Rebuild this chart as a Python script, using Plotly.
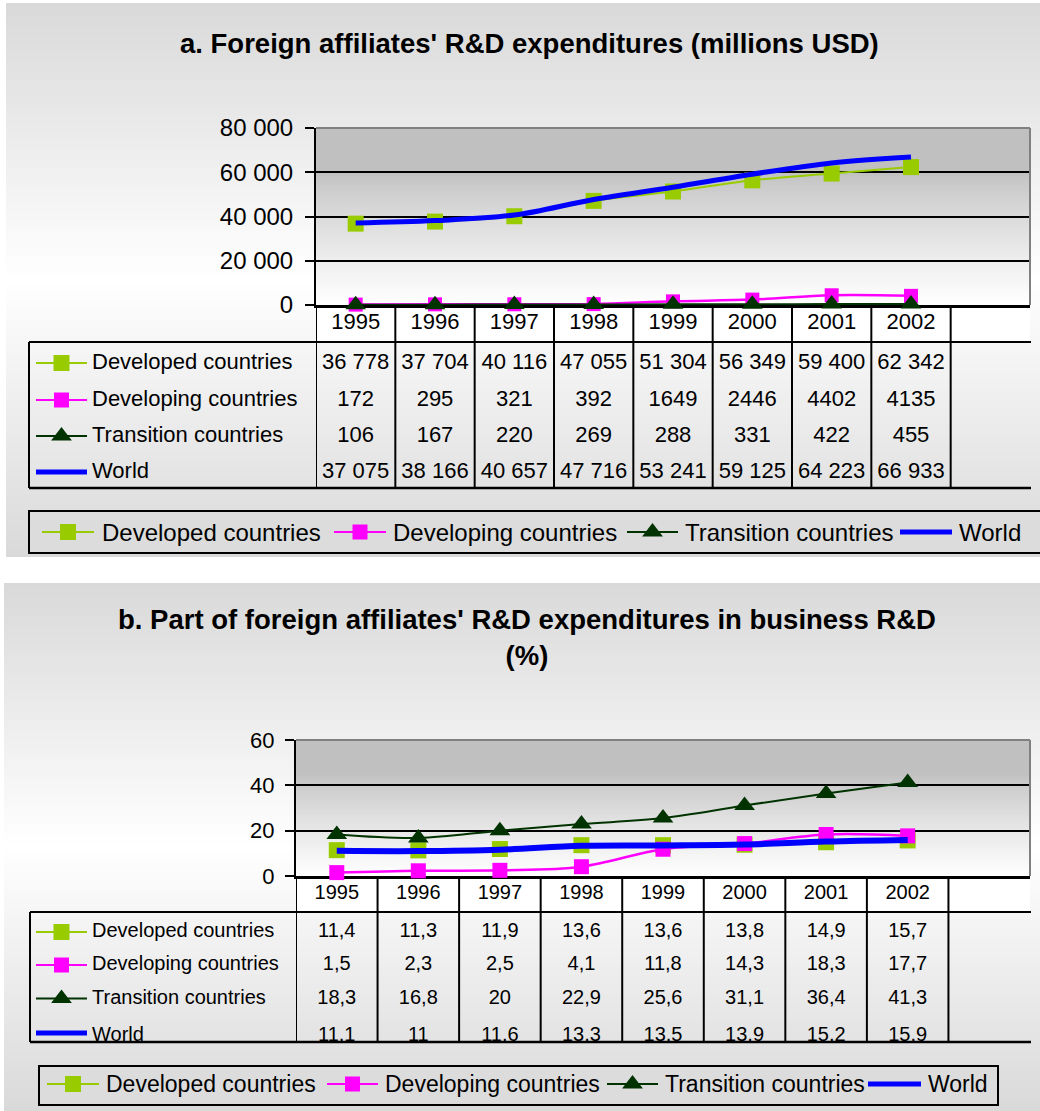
import plotly.graph_objects as go

W, H = 1040, 1111
FONT = "Liberation Sans, Arial, sans-serif"

# ---------------- data ----------------
years = [1995, 1996, 1997, 1998, 1999, 2000, 2001, 2002]
series_names = ["Developed countries", "Developing countries",
                "Transition countries", "World"]

rd_developed = [36778, 37704, 40116, 47055, 51304, 56349, 59400, 62342]
rd_developing = [172, 295, 321, 392, 1649, 2446, 4402, 4135]
rd_transition = [106, 167, 220, 269, 288, 331, 422, 455]
rd_world = [37075, 38166, 40657, 47716, 53241, 59125, 64223, 66933]

share_developed = [11.4, 11.3, 11.9, 13.6, 13.6, 13.8, 14.9, 15.7]
share_developing = [1.5, 2.3, 2.5, 4.1, 11.8, 14.3, 18.3, 17.7]
share_transition = [18.3, 16.8, 20, 22.9, 25.6, 31.1, 36.4, 41.3]
share_world = [11.1, 11, 11.6, 13.3, 13.5, 13.9, 15.2, 15.9]

ticks_a = [0, 20000, 40000, 60000, 80000]
ticks_b = [0, 20, 40, 60]

title_a = "a. Foreign affiliates' R&D expenditures (millions USD)"
title_b = "b. Part of foreign affiliates' R&D expenditures in business R&D<br>(%)"

colors = ["#99CC00", "#FF00FF", "#003300", "#0000FF"]
symbols = ["square", "square", "triangle-up", None]


# ---------------- helpers ----------------
def px(x):
    return x / W


def py(y):
    return 1 - y / H


def xdom(a, b):
    return [a / W, b / W]


def ydom(top, bottom):
    return [1 - bottom / H, 1 - top / H]


def gray(c):
    c = int(round(max(0, min(255, c))))
    return f"rgb({c},{c},{c})"


def fmt_space(v):
    return f"{v:,}".replace(",", " ")


def fmt_comma(v):
    return f"{v:g}".replace(".", ",")


shapes = []
annotations = []
traces = []


def hline(y, x0, x1, width=2, color="black", layer="below"):
    shapes.append(dict(type="line", xref="paper", yref="paper", x0=px(x0), x1=px(x1),
                       y0=py(y), y1=py(y), line=dict(color=color, width=width), layer=layer))


def vline_px(x, y0, y1, width=2, color="black", layer="below"):
    shapes.append(dict(type="line", xref="paper", yref="paper", x0=px(x), x1=px(x),
                       y0=py(y0), y1=py(y1), line=dict(color=color, width=width), layer=layer))


def panel(x0, x1, y0, y1, center, half, edge=217, step=4):
    y = y0
    while y < y1:
        yb = min(y + step, y1)
        d = min(1.0, abs((y + yb) / 2 - center) / half)
        c = 255 - (255 - edge) * d
        shapes.append(dict(type="rect", xref="paper", yref="paper", x0=px(x0), x1=px(x1),
                           y0=py(yb), y1=py(y), line=dict(width=0), fillcolor=gray(c),
                           layer="below"))
        y = yb


def plot_grad(x0, x1, y0, y1, step=3):
    y = y0
    while y < y1:
        yb = min(y + step, y1)
        t = ((y + yb) / 2 - y0) / (y1 - y0)
        s = max(0.0, (t - 0.25) / 0.75) ** 0.8
        c = 192 + 63 * s
        shapes.append(dict(type="rect", xref="paper", yref="paper", x0=px(x0), x1=px(x1),
                           y0=py(yb), y1=py(y), line=dict(width=0), fillcolor=gray(c),
                           layer="below"))
        y = yb


def build_chart(cfg, data, fmts):
    xa, ya, yt, xl = cfg["xa"], cfg["ya"], cfg["yt"], cfg["xl"]
    # background panel & plot gradient
    panel(cfg["panel_x0"], W, cfg["panel_y0"], cfg["panel_y1"], cfg["panel_c"], cfg["panel_h"])
    plot_grad(cfg["pl"], cfg["pr"], cfg["pt"], cfg["pb"])
    # header row white fill
    shapes.append(dict(type="rect", xref=xa, yref="paper", x0=years[0] - 0.5,
                       x1=years[-1] + 1.5, y0=py(cfg["tt"]), y1=py(cfg["pb"]),
                       line=dict(width=0), fillcolor="white", layer="below"))
    # table lines
    hline(cfg["tt"], cfg["tl"], cfg["pr"] + 1, width=2)
    hline(cfg["tb"], cfg["tl"], cfg["pr"] + 1, width=2.5)
    vline_px(cfg["tl"], cfg["tt"], cfg["tb"], width=2)
    for yr in years + [years[-1] + 1]:
        shapes.append(dict(type="line", xref=xa, yref="paper", x0=yr - 0.5, x1=yr - 0.5,
                           y0=py(cfg["pb"]), y1=py(cfg["tb"]),
                           line=dict(color="black", width=2), layer="below"))
    # plot-area gray border (top & right)
    hline(cfg["pt"], cfg["pl"], cfg["pr"], width=2, color="#808080", layer="above")
    vline_px(cfg["pr"], cfg["pt"], cfg["pb"], width=2, color="#808080", layer="above")

    # data lines
    for i, vals in enumerate(data):
        mode = "lines" if symbols[i] is None else "lines+markers"
        traces.append(go.Scatter(
            x=years, y=vals, mode=mode, xaxis=xa, yaxis=ya, cliponaxis=False,
            line=dict(color=colors[i], width=cfg["lw"][i], shape="spline", smoothing=1),
            marker=dict(symbol=symbols[i] or "circle", size=cfg["ms"][i], color=colors[i],
                        line=dict(width=0)),
            hoverinfo="skip", showlegend=False))

    # table: year header
    traces.append(go.Scatter(
        x=years, y=[cfg["head_y"]] * len(years), mode="text", text=[str(y) for y in years],
        textposition="middle center", xaxis=xa, yaxis=yt,
        textfont=dict(family=FONT, size=cfg["fs_head"], color="black"),
        hoverinfo="skip", showlegend=False))
    # table: values
    for r, vals in enumerate(data):
        traces.append(go.Scatter(
            x=years, y=[cfg["row_y"][r]] * len(years), mode="text",
            text=[fmts[r](v) for v in vals], textposition="middle center",
            xaxis=xa, yaxis=yt,
            textfont=dict(family=FONT, size=cfg["fs_tab"], color="black"),
            hoverinfo="skip", showlegend=False))
    # table: row labels + keys
    traces.append(go.Scatter(
        x=[cfg["lab_x"]] * 4, y=cfg["row_y"], mode="text", text=series_names,
        textposition="middle right", xaxis=xl, yaxis=yt,
        textfont=dict(family=FONT, size=cfg["fs_tab"], color="black"),
        hoverinfo="skip", showlegend=False))
    for i in range(4):
        ry = cfg["row_y"][i] + cfg["key_dy"][i]
        traces.append(go.Scatter(
            x=[cfg["key_x0"], cfg["key_x1"]], y=[ry, ry], mode="lines", xaxis=xl, yaxis=yt,
            line=dict(color=colors[i], width=5 if i == 3 else 2),
            hoverinfo="skip", showlegend=False))
        if symbols[i]:
            traces.append(go.Scatter(
                x=[(cfg["key_x0"] + cfg["key_x1"]) / 2], y=[ry], mode="markers",
                xaxis=xl, yaxis=yt,
                marker=dict(symbol=symbols[i], size=cfg["ms_leg"][i], color=colors[i],
                            line=dict(width=0)),
                hoverinfo="skip", showlegend=False))

    # bottom legend box
    lb = cfg["leg_box"]
    shapes.append(dict(type="rect", xref="paper", yref="paper", x0=px(lb[0]), x1=px(lb[1]),
                       y0=py(lb[3]), y1=py(lb[2]), line=dict(color="black", width=2),
                       fillcolor="rgb(220,220,220)", layer="below"))
    ly = cfg["leg_y"]
    for i, (k0, k1, tx) in enumerate(cfg["leg_items"]):
        traces.append(go.Scatter(
            x=[k0, k1], y=[ly, ly], mode="lines", xaxis="x5", yaxis="y5",
            line=dict(color=colors[i], width=5 if i == 3 else 2),
            hoverinfo="skip", showlegend=False))
        if symbols[i]:
            traces.append(go.Scatter(
                x=[(k0 + k1) / 2], y=[ly], mode="markers", xaxis="x5", yaxis="y5",
                marker=dict(symbol=symbols[i], size=cfg["ms_leg"][i], color=colors[i],
                            line=dict(width=0)),
                hoverinfo="skip", showlegend=False))
        annotations.append(dict(x=px(tx), y=py(ly), xref="paper", yref="paper",
                                text=series_names[i], showarrow=False, xanchor="left",
                                yanchor="middle",
                                font=dict(family=FONT, size=cfg["fs_leg"], color="black")))
    # title
    annotations.append(dict(x=px(cfg["title_x"]), y=py(cfg["title_y"]), xref="paper",
                            yref="paper", text="<b>" + cfg["title"] + "</b>", showarrow=False,
                            xanchor="center", yanchor="middle",
                            font=dict(family=FONT, size=cfg["fs_title"], color="black")))


cfg_a = dict(
    xa="x", ya="y", yt="y3", xl="x3",
    panel_x0=6, panel_y0=3, panel_y1=557, panel_c=280, panel_h=277,
    pl=316, pr=1030, pt=128, pb=305,
    tl=29, tt=342, tb=488,
    head_y=323, row_y=[363, 400, 436, 472], key_dy=[0, 0, 0, 0],
    lab_x=92, key_x0=36, key_x1=87,
    lw=[2, 2.5, 2, 5], ms=[16, 14, 18, 0], ms_leg=[16, 15, 18, 0],
    fs_head=22, fs_tab=22, fs_leg=24, fs_title=27.5,
    leg_box=(29, 1048, 511, 553), leg_y=532,
    leg_items=[(42, 94, 100), (334, 386, 391), (627, 678, 683), (900, 952, 957)],
    title=title_a, title_x=529, title_y=43,
)

cfg_b = dict(
    xa="x2", ya="y2", yt="y4", xl="x4",
    panel_x0=4, panel_y0=583, panel_y1=H, panel_c=847, panel_h=264,
    pl=296, pr=1030, pt=740, pb=876,
    tl=30, tt=912, tb=1042,
    head_y=894, row_y=[932, 965, 998.5, 1036], key_dy=[0, 0, 0, -3],
    lab_x=92, key_x0=36, key_x1=87,
    lw=[2, 2.5, 2, 6], ms=[16, 15, 18, 0], ms_leg=[16, 15, 18, 0],
    fs_head=20, fs_tab=20, fs_leg=23, fs_title=27.5,
    leg_box=(39, 998, 1066, 1105), leg_y=1084,
    leg_items=[(47, 99, 104), (327, 378, 383), (607, 658, 663), (868, 921, 926)],
    title=title_b, title_x=527, title_y=637,
)

build_chart(cfg_a, [rd_developed, rd_developing, rd_transition, rd_world],
            [fmt_space, str, str, fmt_space])
build_chart(cfg_b, [share_developed, share_developing, share_transition, share_world],
            [fmt_comma] * 4)

fig = go.Figure(data=traces)

hidden = dict(visible=False, fixedrange=True, automargin=False)


def value_axis(domain, rng, tickvals, fmt, size, standoff):
    return dict(domain=domain, range=rng, tickvals=tickvals, tickformat=fmt,
                ticks="outside", ticklen=9, tickwidth=2, tickcolor="black",
                ticklabelstandoff=standoff,
                showline=True, linecolor="black", linewidth=2,
                showgrid=True, gridcolor="black", gridwidth=2, zeroline=False,
                layer="below traces", automargin=False,
                tickfont=dict(family=FONT, size=size, color="black"), fixedrange=True)


def cat_axis(domain, anchor):
    return dict(domain=domain, range=[years[0] - 0.5, years[-1] + 1.5], anchor=anchor,
                showline=True, linecolor="black", linewidth=3, showticklabels=False,
                ticks="", showgrid=False, zeroline=False, fixedrange=True,
                layer="below traces", automargin=False)


fig.update_layout(
    width=W, height=H, margin=dict(l=0, r=0, t=0, b=0, pad=0, autoexpand=False),
    paper_bgcolor="white", plot_bgcolor="rgba(0,0,0,0)",
    separators=", ", showlegend=False,
    font=dict(family=FONT, color="black"),
    xaxis=cat_axis(xdom(316, 1030), "y"),
    yaxis=dict(value_axis(ydom(128, 305), [0, 80000], ticks_a, ",d", 24, 7), anchor="x"),
    xaxis2=cat_axis(xdom(296, 1030), "y2"),
    yaxis2=dict(value_axis(ydom(740, 876), [0, 60], ticks_b, "d", 22, 6), anchor="x2"),
    yaxis3=dict(hidden, domain=ydom(305, 488), range=[488, 305], anchor="x"),
    xaxis3=dict(hidden, domain=xdom(29, 316), range=[29, 316], anchor="y3"),
    yaxis4=dict(hidden, domain=ydom(876, 1042), range=[1042, 876], anchor="x2"),
    xaxis4=dict(hidden, domain=xdom(30, 296), range=[30, 296], anchor="y4"),
    xaxis5=dict(hidden, domain=[0, 1], range=[0, W], anchor="y5"),
    yaxis5=dict(hidden, domain=[0, 1], range=[H, 0], anchor="x5"),
    shapes=shapes, annotations=annotations,
)

fig.write_html("out.html")
